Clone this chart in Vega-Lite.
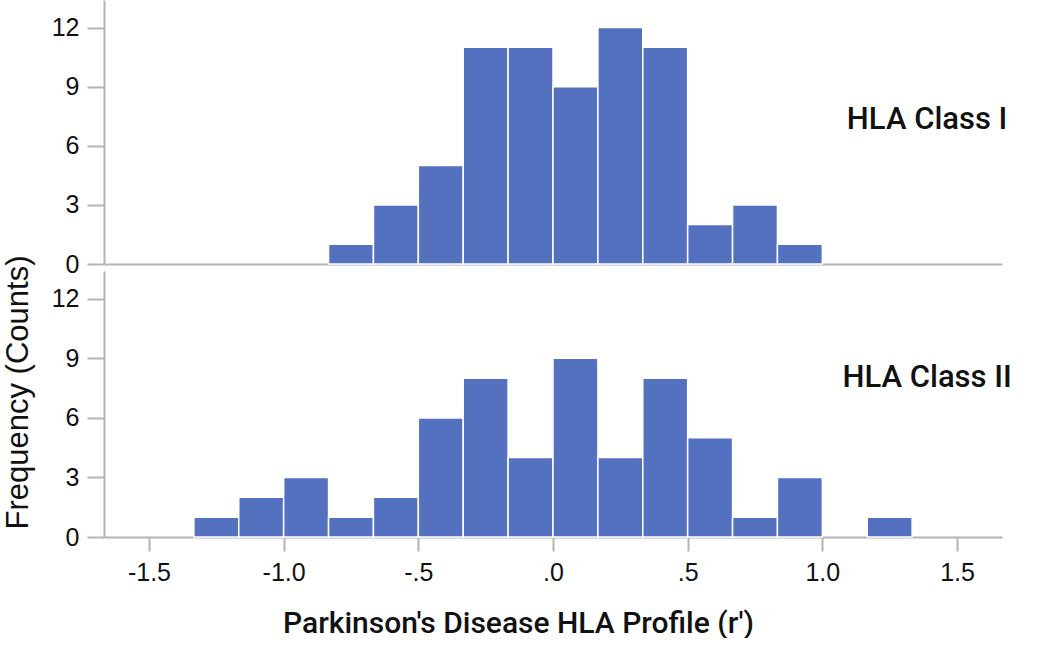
{
  "$schema": "https://vega.github.io/schema/vega-lite/v6.json",
  "background": "white",
  "padding": {"left": 1, "top": 0, "right": 5, "bottom": 0},
  "spacing": 7,
  "bounds": "flush",
  "datasets": {
    "classI": [
      {"bin_start": -0.8333, "bin_end": -0.6667, "count": 1},
      {"bin_start": -0.6667, "bin_end": -0.5, "count": 3},
      {"bin_start": -0.5, "bin_end": -0.3333, "count": 5},
      {"bin_start": -0.3333, "bin_end": -0.1667, "count": 11},
      {"bin_start": -0.1667, "bin_end": 0, "count": 11},
      {"bin_start": 0, "bin_end": 0.1667, "count": 9},
      {"bin_start": 0.1667, "bin_end": 0.3333, "count": 12},
      {"bin_start": 0.3333, "bin_end": 0.5, "count": 11},
      {"bin_start": 0.5, "bin_end": 0.6667, "count": 2},
      {"bin_start": 0.6667, "bin_end": 0.8333, "count": 3},
      {"bin_start": 0.8333, "bin_end": 1.0, "count": 1}
    ],
    "classII": [
      {"bin_start": -1.3333, "bin_end": -1.1667, "count": 1},
      {"bin_start": -1.1667, "bin_end": -1.0, "count": 2},
      {"bin_start": -1.0, "bin_end": -0.8333, "count": 3},
      {"bin_start": -0.8333, "bin_end": -0.6667, "count": 1},
      {"bin_start": -0.6667, "bin_end": -0.5, "count": 2},
      {"bin_start": -0.5, "bin_end": -0.3333, "count": 6},
      {"bin_start": -0.3333, "bin_end": -0.1667, "count": 8},
      {"bin_start": -0.1667, "bin_end": 0, "count": 4},
      {"bin_start": 0, "bin_end": 0.1667, "count": 9},
      {"bin_start": 0.1667, "bin_end": 0.3333, "count": 4},
      {"bin_start": 0.3333, "bin_end": 0.5, "count": 8},
      {"bin_start": 0.5, "bin_end": 0.6667, "count": 5},
      {"bin_start": 0.6667, "bin_end": 0.8333, "count": 1},
      {"bin_start": 0.8333, "bin_end": 1.0, "count": 3},
      {"bin_start": 1.1667, "bin_end": 1.3333, "count": 1}
    ]
  },
  "vconcat": [
    {
      "width": 898,
      "height": 264,
      "layer": [
        {
          "data": {"name": "classI"},
          "mark": {"type": "bar", "color": "#5371BF", "stroke": "white", "strokeWidth": 1.5},
          "encoding": {
            "x": {"field": "bin_start", "type": "quantitative", "scale": {"domain": [-1.667, 1.667], "nice": false, "zero": false},
                  "axis": {"title": null, "labels": false, "ticks": false}},
            "x2": {"field": "bin_end"},
            "y": {"field": "count", "type": "quantitative", "scale": {"domain": [0, 13.4], "nice": false},
                  "axis": {"title": null, "values": [0, 3, 6, 9, 12]}},
            "y2": {"datum": 0}
          }
        },
        {
          "data": {"values": [{"label": "HLA Class I"}]},
          "mark": {"type": "text", "font": "Roboto", "fontSize": 31, "fontWeight": 500, "align": "center", "baseline": "alphabetic", "color": "#111111"},
          "encoding": {
            "x": {"datum": 1.389, "type": "quantitative"},
            "y": {"datum": 6.86, "type": "quantitative"},
            "text": {"field": "label"}
          }
        }
      ]
    },
    {
      "width": 898,
      "height": 266,
      "layer": [
        {
          "data": {"name": "classII"},
          "mark": {"type": "bar", "color": "#5371BF", "stroke": "white", "strokeWidth": 1.5},
          "encoding": {
            "x": {"field": "bin_start", "type": "quantitative", "scale": {"domain": [-1.667, 1.667], "nice": false, "zero": false},
                  "axis": {"title": "Parkinson's Disease HLA Profile (r')", "values": [-1.5, -1, -0.5, 0, 0.5, 1, 1.5],
                           "labelExpr": "replace(replace(format(datum.value, '.1f'), '\u2212', '-'), regexp('^(-?)0\\\\.'), '$1.')",
                           "tickSize": 14, "labelPadding": 9,
                           "titleFont": "Roboto", "titleFontSize": 30, "titleFontWeight": 500,
                           "titleBaseline": "alphabetic", "titleX": 414, "titleY": 95}},
            "x2": {"field": "bin_end"},
            "y": {"field": "count", "type": "quantitative", "scale": {"domain": [0, 13.4], "nice": false},
                  "axis": {"title": "Frequency (Counts)", "values": [0, 3, 6, 9, 12],
                           "titleFont": "Liberation Sans", "titleFontSize": 31, "titleFontWeight": "normal",
                           "titleAngle": -90, "titleAlign": "center", "titleBaseline": "middle",
                           "titleX": -86, "titleY": 121}},
            "y2": {"datum": 0}
          }
        },
        {
          "data": {"values": [{"label": "HLA Class II"}]},
          "mark": {"type": "text", "font": "Roboto", "fontSize": 31, "fontWeight": 500, "align": "center", "baseline": "alphabetic", "color": "#111111"},
          "encoding": {
            "x": {"datum": 1.389, "type": "quantitative"},
            "y": {"datum": 7.56, "type": "quantitative"},
            "text": {"field": "label"}
          }
        }
      ]
    }
  ],
  "config": {
    "view": {"stroke": null},
    "axis": {
      "grid": false,
      "domainColor": "#b4b4b4",
      "domainWidth": 2,
      "tickColor": "#b4b4b4",
      "tickWidth": 2,
      "labelFont": "Liberation Sans",
      "labelFontSize": 25,
      "labelColor": "#111111",
      "titleColor": "#111111"
    },
    "axisY": {"tickSize": 17, "labelPadding": 8}
  }
}
